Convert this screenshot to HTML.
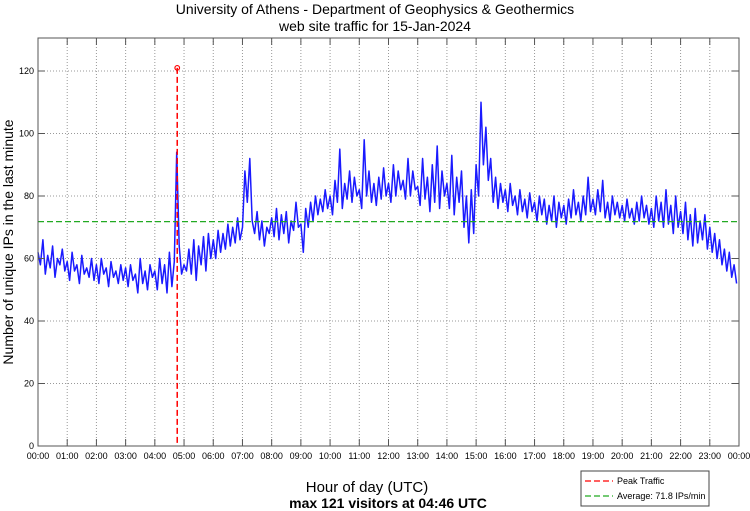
<!DOCTYPE html>
<html><head><meta charset="utf-8"><style>
body{margin:0;background:#fff;}
svg{display:block;font-family:"Liberation Sans",sans-serif;}
</style></head><body>
<svg id="chart" width="750" height="511">
<text x="375" y="14" text-anchor="middle" font-size="14">University of Athens - Department of Geophysics &amp; Geothermics</text>
<text x="375" y="31" text-anchor="middle" font-size="14">web site traffic for 15-Jan-2024</text>
<text transform="translate(13,242) rotate(-90)" text-anchor="middle" font-size="14">Number of unique IPs in the last minute</text>
<text x="367" y="492" text-anchor="middle" font-size="15">Hour of day (UTC)</text>
<text x="388" y="508" text-anchor="middle" font-size="14" font-weight="bold">max 121 visitors at 04:46 UTC</text>
<g id="grid"></g>
<g id="series"></g>
<g id="marks"></g>
<rect x="38" y="38" width="701" height="408" fill="none" stroke="#555" stroke-width="1"/>
<g id="ticks"></g>
<g>
<rect x="581" y="471" width="128" height="35" fill="#fff" stroke="#444"/>
<line x1="585" y1="481" x2="613" y2="481" stroke="#f00" stroke-dasharray="6,3" stroke-width="1.3"/>
<text x="617" y="484" font-size="9">Peak Traffic</text>
<line x1="585" y1="496" x2="613" y2="496" stroke="#2a2" stroke-dasharray="6,3" stroke-width="1.3"/>
<text x="617" y="499" font-size="9">Average: 71.8 IPs/min</text>
</g>
</svg>
<script>
const visitors = [
62,58,66,55,61,57,64,54,60,58,63,56,
59,53,62,56,58,52,61,55,57,54,60,53,
58,52,60,55,57,51,59,54,56,52,58,53,
57,51,58,53,55,49,60,52,56,50,58,54,
56,50,60,52,58,49,62,51,59,94,64,55,
58,56,63,55,66,53,64,58,67,56,68,60,
66,60,69,62,68,63,71,64,70,65,73,66,
70,88,78,92,72,68,75,66,72,64,70,68,
73,67,76,66,74,68,75,65,72,69,78,70,
71,62,76,70,78,72,80,74,79,75,82,76,
80,74,85,78,95,76,84,79,88,78,86,80,
82,76,98,80,88,78,84,77,86,79,89,80,
84,78,90,80,88,82,85,79,92,80,88,82,
83,77,92,79,86,75,90,78,96,76,88,80,
84,76,93,74,86,78,88,70,80,65,82,68,
90,80,110,90,102,85,92,78,86,76,84,78,
82,75,84,77,80,74,82,75,79,73,81,75,
78,72,80,74,79,71,77,72,80,70,78,73,
77,71,79,73,82,74,78,72,80,74,86,75,
79,74,82,75,85,73,78,72,80,74,78,73,
77,72,79,73,76,71,78,72,80,73,77,71,
76,70,80,72,78,70,82,71,77,68,80,70,
75,68,78,66,74,64,76,65,72,66,74,63,
70,62,68,60,66,58,63,56,62,54,58,52];
const stepMinutes = 5;
const yTicks = [0,20,40,60,80,100,120];
const xTickLabels = ["00:00","01:00","02:00","03:00","04:00","05:00","06:00","07:00","08:00","09:00","10:00","11:00","12:00","13:00","14:00","15:00","16:00","17:00","18:00","19:00","20:00","21:00","22:00","23:00","00:00"];
const peakValue = 121;
const peakMinute = 286;
const averageValue = 71.8;

const L=38,R=739,T=38,B=446;
const x = m => L + m/1440*(R-L);
const y = v => B - v*(B-71)/120;
const NS="http://www.w3.org/2000/svg";
function mk(tag, attrs, parent){const e=document.createElementNS(NS,tag);for(const k in attrs)e.setAttribute(k,attrs[k]);parent.appendChild(e);return e;}
const grid=document.getElementById('grid'), ticks=document.getElementById('ticks'), series=document.getElementById('series'), marks=document.getElementById('marks');
xTickLabels.forEach((lab,i)=>{
  const px=x(i*60);
  if(i>0&&i<24){const g=mk('line',{x1:px,y1:T,x2:px,y2:B,stroke:'#999','stroke-dasharray':'1,2'},grid);
  
  }
  mk('line',{x1:px,y1:B,x2:px,y2:B-7,stroke:'#555'},ticks);
  mk('line',{x1:px,y1:T,x2:px,y2:T+7,stroke:'#555'},ticks);
  const t=mk('text',{x:px,y:B+13,'text-anchor':'middle','font-size':'9'},ticks);
  t.textContent=lab;
  
  
});
yTicks.forEach(v=>{
  const py=y(v);
  if(v>0){const g=mk('line',{x1:L,y1:py,x2:R,y2:py,stroke:'#999','stroke-dasharray':'1,2'},grid);
  
  }
  mk('line',{x1:L,y1:py,x2:L+7,y2:py,stroke:'#555'},ticks);
  mk('line',{x1:R,y1:py,x2:R-7,y2:py,stroke:'#555'},ticks);
  const t=mk('text',{x:L-4,y:py+3,'text-anchor':'end','font-size':'9'},ticks);
  t.textContent=v;
  
  
});
const pts=visitors.map((v,i)=>x(i*stepMinutes).toFixed(1)+','+y(v).toFixed(1)).join(' ');
const line=mk('polyline',{points:pts,fill:'none',stroke:'#1a1aff','stroke-width':'1.5','stroke-linejoin':'round'},series);


const avg=mk('line',{x1:L,y1:y(averageValue),x2:R,y2:y(averageValue),stroke:'#2a2','stroke-dasharray':'6,3','stroke-width':'1.3'},marks);


const pk=mk('line',{x1:x(peakMinute),y1:y(peakValue),x2:x(peakMinute),y2:B,stroke:'#f00','stroke-dasharray':'6,3','stroke-width':'1.5'},marks);


const c=mk('circle',{cx:x(peakMinute),cy:y(peakValue),r:2.3,fill:'none',stroke:'#f00','stroke-width':'1.2'},marks);


</script>
</body></html>
